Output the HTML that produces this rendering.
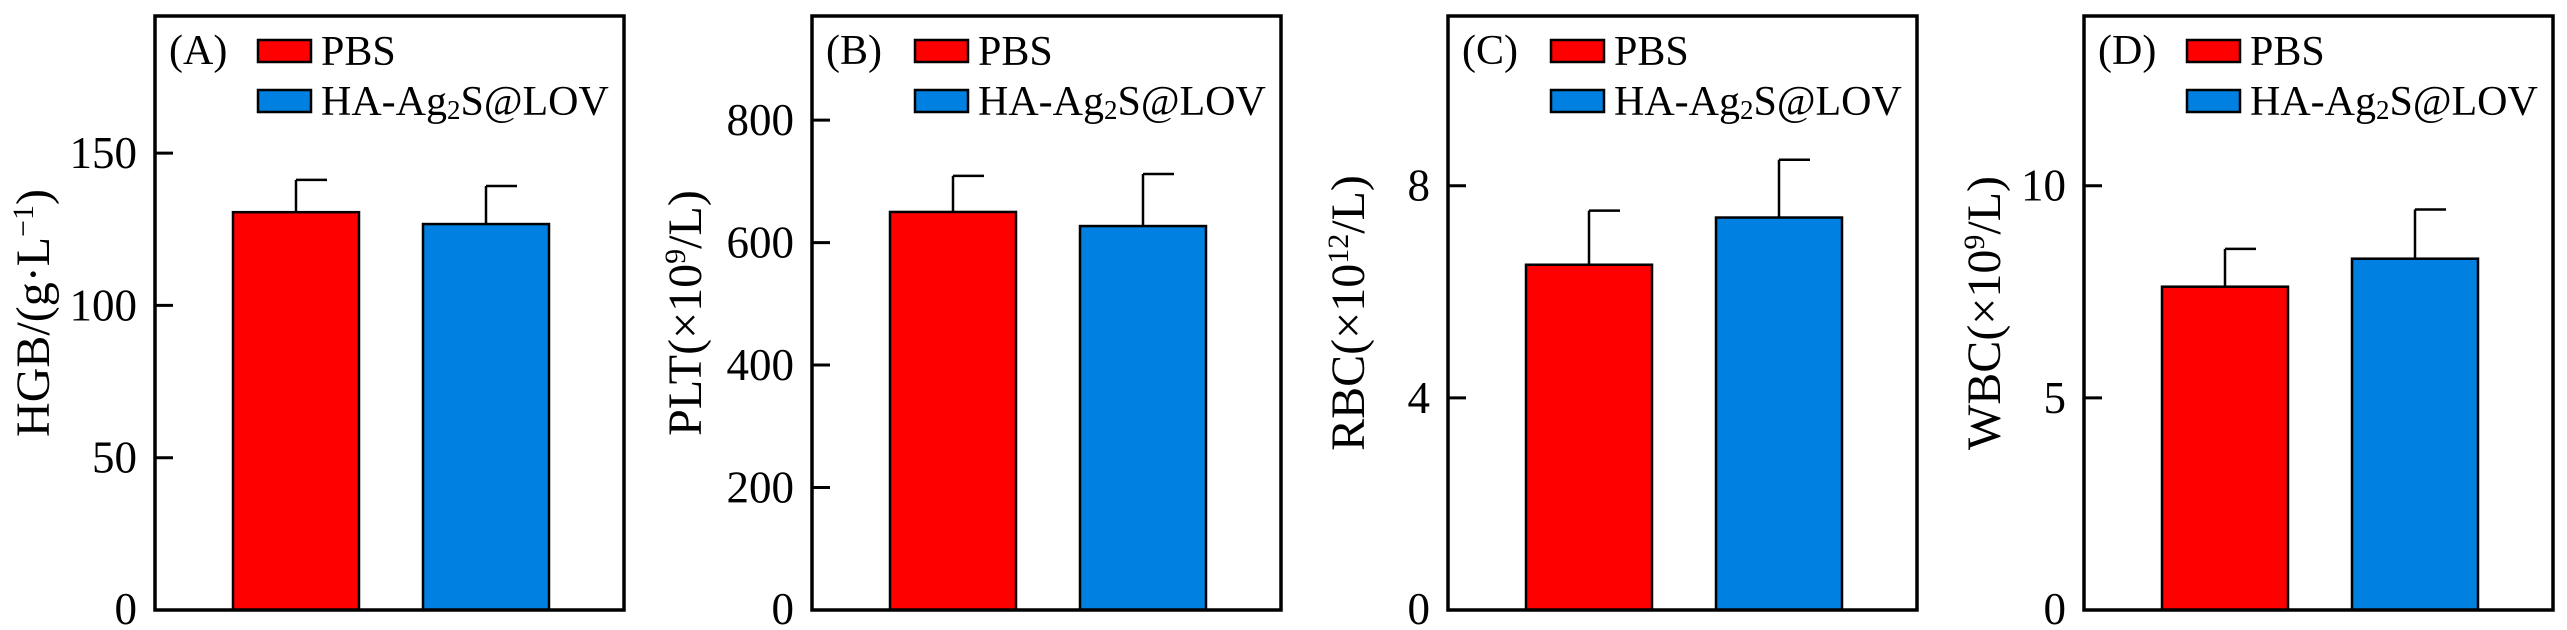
<!DOCTYPE html>
<html><head><meta charset="utf-8"><style>
html,body{margin:0;padding:0;background:#fff;}
svg{display:block;font-family:"Liberation Serif","Times New Roman",serif;}
</style></head><body>
<svg id="chart" width="2567" height="630" viewBox="0 0 2567 630" xmlns="http://www.w3.org/2000/svg"></svg>
<script>
const panelIds = ["A","B","C","D"];
const seriesNames = ["PBS","HA-Ag2S@LOV"];
const pbsValues = [130.6, 650, 6.51, 7.62];
const pbsErrors = [10.6, 59, 1.02, 0.89];
const hasValues = [126.7, 627, 7.40, 8.28];
const hasErrors = [12.5, 85, 1.09, 1.16];
const yMax = [195, 970, 11.2, 14];
const yTicks = [[0,50,100,150],[0,200,400,600,800],[0,4,8],[0,5,10]];
const yTitles = ["HGB/(g·L<tspan baseline-shift='super' font-size='30'>−1</tspan>)","PLT(×10<tspan baseline-shift='super' font-size='30'>9</tspan>/L)","RBC(×10<tspan baseline-shift='super' font-size='30'>12</tspan>/L)","WBC(×10<tspan baseline-shift='super' font-size='30'>9</tspan>/L)"];

const frameLeft = [155, 812, 1448, 2084];
const titleOffset = [122, 127, 100, 100];
const FW = 469, TOP = 16, BOT = 610;
const NS = "http://www.w3.org/2000/svg";
const svg = document.getElementById("chart");
function mk(tag, attrs, parent){const e=document.createElementNS(NS,tag);for(const k in attrs)e.setAttribute(k,attrs[k]);(parent||svg).appendChild(e);return e;}

panelIds.forEach((pid,i)=>{
  const L = frameLeft[i];
  const g = mk("g",{});
  
  
  const y = v => BOT - v/yMax[i]*(BOT-TOP);
  const vals=[pbsValues[i],hasValues[i]], errs=[pbsErrors[i],hasErrors[i]];
  const bx=[L+78, L+268], colors=["#ff0000","#0080e0"];
  vals.forEach((v,j)=>{
    const cx = bx[j]+63;
    const e1 = mk("line",{x1:cx,x2:cx,y1:y(v),y2:y(v+errs[j]),stroke:"#000","stroke-width":2.5},g);
    
    
    const e2 = mk("line",{x1:cx,x2:cx+31,y1:y(v+errs[j]),y2:y(v+errs[j]),stroke:"#000","stroke-width":2.5},g);
    
    
    const r = mk("rect",{x:bx[j],y:y(v),width:126,height:BOT-y(v),fill:colors[j],stroke:"#000","stroke-width":2.5},g);
    
    
  });
  const fr = mk("rect",{x:L,y:TOP,width:FW,height:BOT-TOP,fill:"none",stroke:"#000","stroke-width":3.5},g);
  
  
  yTicks[i].forEach(t=>{
    const ty=y(t);
    const tl = mk("line",{x1:L,x2:L+18,y1:ty,y2:ty,stroke:"#000","stroke-width":3},g);
    
    
    const tx = mk("text",{x:L-18,y:ty+(t===0?14:15),"text-anchor":"end","font-size":45},g);
    tx.textContent=t;
    
    
  });
  const cx = L-titleOffset[i]+16, cy=(TOP+BOT)/2;
  const tt = mk("text",{x:cx,y:cy,"text-anchor":"middle","font-size":48,transform:`rotate(-90 ${cx} ${cy})`},g);
  tt.innerHTML = yTitles[i];
  
  
  const pl = mk("text",{x:L+14,y:64,"font-size":42},g);
  pl.textContent="("+pid+")";
  
  
  [0,1].forEach(j=>{
    const ly = j?90:40;
    const lb = mk("rect",{x:L+103,y:ly,width:53,height:22,fill:colors[j],stroke:"#000","stroke-width":2.5},g);
    
    
    const lt = mk("text",{x:L+166,y:ly+25,"font-size":42},g);
    lt.innerHTML = j?"HA-Ag<tspan font-size='27' dy='4'>2</tspan><tspan dy='-4'>S@LOV</tspan>":"PBS";
    
    
  });
});
</script>
</body></html>
